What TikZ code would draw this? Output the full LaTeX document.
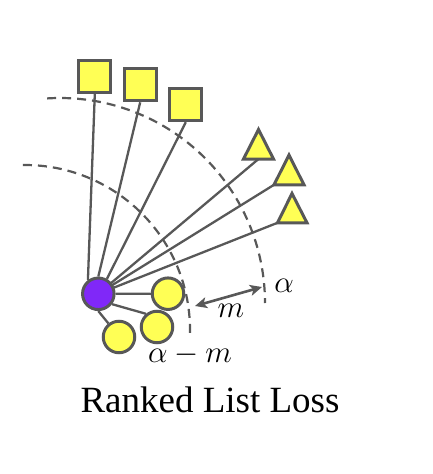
\RequirePackage{fix-cm}
\documentclass[tikz,border=0pt]{standalone}
\usepackage{fontspec}
\setmainfont{Liberation Serif}
\usetikzlibrary{arrows.meta,backgrounds}
\definecolor{lgray}{RGB}{88,88,88}
\definecolor{yfill}{RGB}{255,255,85}
\definecolor{pfill}{RGB}{128,40,248}
\begin{document}
\begin{tikzpicture}[x=1pt,y=-1pt,
 conn/.style={draw=lgray, line width=2.3pt},
 sqbox/.style={draw=lgray, fill=yfill, line width=3pt, minimum size=32pt, inner sep=0pt},
 ball/.style={circle, draw=lgray, fill=yfill, line width=3pt, minimum size=31.5pt, inner sep=0pt},
 anchorball/.style={ball, fill=pfill},
 tri/.style={draw=lgray, fill=yfill, line width=3pt, line join=miter},
 arcline/.style={draw=lgray, line width=2.2pt, dash pattern=on 9pt off 6pt},
 margarrow/.style={draw=lgray, line width=2.6pt, {Stealth[length=12pt,width=11pt,inset=3pt]}-{Stealth[length=12pt,width=11pt,inset=3pt]}},
 lab/.style={inner sep=0pt, font=\fontsize{31}{36}\selectfont},
 title/.style={inner sep=0pt, font=\fontsize{37}{42}\selectfont}
]
\useasboundingbox (0,0) rectangle (432,474);

% anchor and positives (circles)
\node[anchorball] (a) at (98.3,293.8) {};
\node[ball] (c1) at (168,293.7) {};
\node[ball] (c2) at (157,327) {};
\node[ball] (c3) at (119,337) {};

% negatives (squares)
\node[sqbox] (sq1) at (94.8,76.3) {};
\node[sqbox] (sq2) at (140.2,84.8) {};
\node[sqbox] (sq3) at (185.8,104.7) {};

% negatives (triangles)
\coordinate (t1l) at (243.5,159);
\coordinate (t1r) at (273.5,159);
\coordinate (t1a) at (258.5,129.5);
\coordinate (t1b) at (258.5,159);
\coordinate (t2l) at (274,184.8);
\coordinate (t2r) at (304,184.8);
\coordinate (t2a) at (289,155);
\coordinate (t3l) at (277.5,222.8);
\coordinate (t3r) at (307,222.8);
\coordinate (t3a) at (292,193.5);
\draw[tri] (t1l) -- (t1r) -- (t1a) -- cycle;
\draw[tri] (t2l) -- (t2r) -- (t2a) -- cycle;
\draw[tri] (t3l) -- (t3r) -- (t3a) -- cycle;

% arc centres
\coordinate (o1) at (60,303);
\coordinate (o2) at (25,330);

\begin{scope}[on background layer]
  \draw[conn] (a.127) -- (sq1.south);
  \draw[conn] (a.north) -- (sq2.south);
  \draw[conn] (a.60) -- (sq3.south);
  \draw[conn] (a.center) -- (t1b);
  \draw[conn] (a.center) -- (t2l);
  \draw[conn] (a.center) -- (t3l);
  \draw[conn] (a.east) -- (c1.west);
  \draw[conn] (a.-37) -- (c2.130);
  \draw[conn] (a.south) -- (c3.128);
  \draw[arcline] ([shift={(93.6:205pt)}]o1) arc[start angle=93.6, end angle=0, radius=205pt];
  \draw[arcline] ([shift={(90.7:165pt)}]o2) arc[start angle=90.7, end angle=-2, radius=165pt];
\end{scope}

% margin arrow
\coordinate (m1) at (195,306);
\coordinate (m2) at (262,287);
\draw[margarrow] (m1) -- (m2);

% labels
\node[lab] (alpha) at (284,286) {$\alpha$};
\node[lab] (mlab) at (231,311) {$m$};
\node[lab] (amlab) at (190,355) {$\alpha-m$};
\node[title, anchor=base] (ttl) at (210,412) {Ranked List Loss};
\end{tikzpicture}
\end{document}
